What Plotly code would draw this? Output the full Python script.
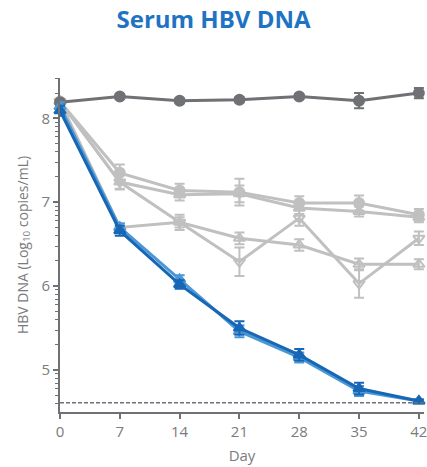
import numpy as np
import plotly.graph_objects as go

days = [0, 7, 14, 21, 28, 35, 42]
x_ticks = [0, 7, 14, 21, 28, 35, 42]
y_ticks = [5, 6, 7, 8]
LLOQ = 4.61

# control (dark gray)
ctrl = [8.19, 8.26, 8.21, 8.22, 8.26, 8.21, 8.30]
ctrl_err = [0.03, 0.03, 0.03, 0.03, 0.03, 0.09, 0.06]

# light gray series
gA = [8.20, 7.35, 7.14, 7.12, 6.99, 6.99, 6.85]
gA_err = [0.03, 0.10, 0.08, 0.16, 0.08, 0.09, 0.07]
gB = [8.20, 7.24, 7.09, 7.10, 6.93, 6.89, 6.82]
gB_err = [0.03, 0.09, 0.07, 0.10, 0.07, 0.06, 0.06]
gC = [8.20, 7.24, 6.76, 6.29, 6.81, 6.03, 6.57]
gC_err = [0.03, 0.08, 0.09, 0.17, 0.09, 0.17, 0.08]
gD = [8.20, 6.70, 6.76, 6.57, 6.49, 6.26, 6.26]
gD_err = [0.03, 0.04, 0.06, 0.07, 0.07, 0.07, 0.06]

# blue series
b1 = [8.09, 6.66, 6.02, 5.50, 5.18, 4.78, 4.63]
b1_err = [0.06, 0.06, 0.05, 0.08, 0.07, 0.07, 0.02]
b2 = [8.14, 6.70, 6.08, 5.46, 5.15, 4.75, 4.63]
b2_err = [0.05, 0.05, 0.05, 0.07, 0.06, 0.06, 0.02]

DARK = "#707174"
LIGHT = "#c0c0c0"
BLUE = "#1767b5"
BLUE2 = "#4a98d6"
TXT = "#7a7b7e"

fig = go.Figure()

def add(y, err, color, symbol, width=3, size=10):
    fig.add_trace(go.Scatter(
        x=days, y=y, mode="lines+markers",
        line=dict(color=color, width=width),
        marker=dict(color=color, symbol=symbol, size=size,
                    line=dict(color=color, width=2)),
        error_y=dict(type="data", array=err, color=color, thickness=2, width=5),
        cliponaxis=False, showlegend=False))

add(gD, gD_err, LIGHT, "triangle-up-open", width=3)
add(gC, gC_err, LIGHT, "triangle-down-open", width=3)
add(gB, gB_err, LIGHT, "triangle-up", width=3)
add(gA, gA_err, LIGHT, "circle", width=3)
add(ctrl, ctrl_err, DARK, "circle", width=3)
add(b2, b2_err, BLUE2, "triangle-up", width=3)
add(b1, b1_err, BLUE, "triangle-up", width=3)

fig.add_shape(type="line", xref="x", yref="y", x0=0, x1=42.6, y0=LLOQ, y1=LLOQ,
              line=dict(color=DARK, width=1.5, dash="4px,2px"))

minor_vals = [m + np.log10(k) for m in range(4, 9) for k in range(2, 10)]
minor_vals = [v for v in minor_vals if 4.5 < v < 8.48]

fig.update_layout(
    width=427, height=467,
    margin=dict(l=60, r=0, t=78, b=55),
    paper_bgcolor="white", plot_bgcolor="white",
    title=dict(text="<b>Serum HBV DNA</b>", x=0.5, xanchor="center",
               y=1 - 20 / 467, yanchor="middle",
               font=dict(family="Open Sans", size=24, color="#1f73c3")),
    font=dict(family="Open Sans", color=TXT),
    xaxis=dict(range=[0, 42.6], tickmode="array", tickvals=x_ticks,
               showline=True, linecolor=DARK, linewidth=2,
               ticks="outside", ticklen=5, tickwidth=1.5, tickcolor=DARK,
               showgrid=False, zeroline=False, ticklabeloverflow="allow",
               tickfont=dict(size=15, color=TXT),
               title=dict(text="Day", font=dict(size=15, color=TXT), standoff=10)),
    yaxis=dict(range=[4.5, 8.48], tickmode="array", tickvals=y_ticks,
               showline=True, linecolor=DARK, linewidth=2,
               ticks="outside", ticklen=5, tickwidth=1.5, tickcolor=DARK,
               showgrid=False, zeroline=False,
               tickfont=dict(size=15, color=TXT),
               minor=dict(tickmode="array", tickvals=minor_vals, ticks="outside",
                          ticklen=3, tickwidth=1, tickcolor=DARK),
               title=dict(text="HBV DNA (Log<sub>10</sub> copies/mL)",
                          font=dict(size=14, color=TXT), standoff=10)),
)

fig.write_html("out.html")
